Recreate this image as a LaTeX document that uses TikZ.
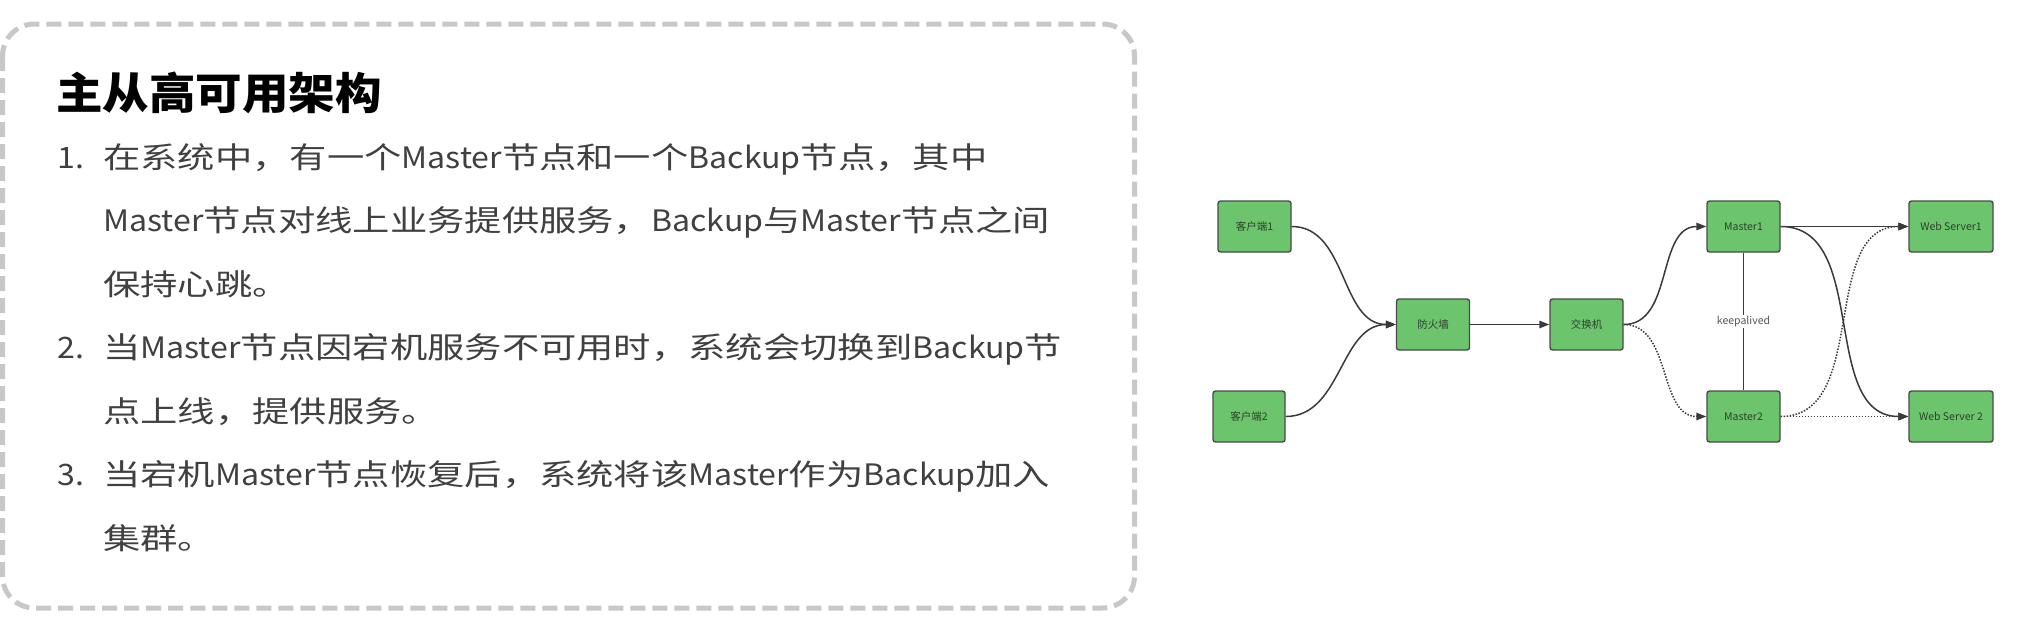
\documentclass[tikz,border=0pt]{standalone}
\usepackage{fontspec}
\setmainfont{Noto Sans CJK SC}
\usetikzlibrary{arrows.meta}
\definecolor{framegrey}{HTML}{C8C8C8}
\definecolor{bodytext}{HTML}{404040}
\definecolor{boxgreen}{HTML}{6CC46C}
\definecolor{boxedge}{HTML}{4A4A4A}
\definecolor{nodetext}{HTML}{2F3F2F}
\definecolor{linkgrey}{HTML}{3A3A3A}
\definecolor{labelgrey}{HTML}{555555}
\newcommand\bodyfont{\fontsize{29.5}{35}\selectfont}
\newcommand\titlefont{\fontsize{43.5}{50}\selectfont\bfseries}
\newcommand\bstretch[1]{\scalebox{1.265}[1]{#1}}
\newcommand\tstretch[1]{\scalebox{1.07}[1]{#1}}
\newcommand\lat[1]{\scalebox{0.86}[1]{#1}}
\begin{document}
\begin{tikzpicture}[x=1pt,y=-1pt,
  frame/.style={draw=framegrey, line width=5pt, dash pattern=on 15pt off 7pt, rounded corners=32pt},
  srv/.style={draw=boxedge, fill=boxgreen, rounded corners=2.5pt, line width=1.4pt,
    minimum width=73pt, minimum height=51pt, inner sep=0pt,
    font=\fontsize{10.5}{12}\selectfont, text=nodetext},
  link/.style={draw=linkgrey, line width=1.5pt},
  arr/.style={link, -{Triangle[length=10pt,width=7.5pt]}},
  dotted line/.style={dash pattern=on 1.5pt off 1.5pt},
  body/.style={anchor=base west, inner sep=0pt, font=\bodyfont, text=bodytext},
  ttl/.style={anchor=base west, inner sep=0pt, font=\titlefont, text=black},
  lbl/.style={fill=white, inner sep=1.5pt, font=\fontsize{10.5}{12}\selectfont, text=labelgrey}]
\useasboundingbox (0,0) rectangle (2018,621);
\fill[white] (0,0) rectangle (2018,621);
% left panel
\draw[frame] (2.5,24) rectangle (1134.5,608);
\node[ttl] (title) at (56,109.5) {\tstretch{主从高可用架构}};
\node[body] (n1) at (57,168) {\bstretch{\lat{1.}}};
\node[body] (l1) at (103,168) {\bstretch{在系统中，有一个\lat{Master}节点和一个\lat{Backup}节点，其中}};
\node[body] (l2) at (103,231.5) {\bstretch{\lat{Master}节点对线上业务提供服务，\lat{Backup}与\lat{Master}节点之间}};
\node[body] (l3) at (103,295) {\bstretch{保持心跳。}};
\node[body] (n2) at (57,358.5) {\bstretch{\lat{2.}}};
\node[body] (l4) at (103,358.5) {\bstretch{当\lat{Master}节点因宕机服务不可用时，系统会切换到\lat{Backup}节}};
\node[body] (l5) at (103,422) {\bstretch{点上线，提供服务。}};
\node[body] (n3) at (57,485.5) {\bstretch{\lat{3.}}};
\node[body] (l6) at (103,485.5) {\bstretch{当宕机\lat{Master}节点恢复后，系统将该\lat{Master}作为\lat{Backup}加入}};
\node[body] (l7) at (103,549) {\bstretch{集群。}};
% diagram
\node[srv] (c1) at (1254.5,226.5) {客户端1};
\node[srv, minimum width=72pt] (c2) at (1249,416.5) {客户端2};
\node[srv] (fw) at (1433,324.5) {防火墙};
\node[srv] (sw) at (1586.5,324.5) {交换机};
\node[srv] (m1) at (1743.5,226.5) {Master1};
\node[srv] (m2) at (1743.5,416.5) {Master2};
\node[srv, minimum width=84pt] (w1) at (1951,226.5) {Web Server1};
\node[srv, minimum width=84pt] (w2) at (1951,416.5) {Web Server 2};
\draw[arr] (c1.east) to[out=0,in=180] (fw.west);
\draw[arr] (c2.east) to[out=0,in=180] (fw.west);
\draw[arr] (fw.east) -- (sw.west);
\draw[arr] (sw.east) to[out=0,in=180] (m1.west);
\draw[arr, dotted line] (sw.east) to[out=0,in=180] (m2.west);
\draw[link] (m1.south) -- node[lbl] (ka) {keepalived} (m2.north);
\draw[arr] (m1.east) -- (w1.west);
\draw[arr] (m1.east) to[out=0,in=180] (w2.west);
\draw[arr, dotted line] (m2.east) to[out=0,in=180] (w1.west);
\draw[arr, dotted line] (m2.east) -- (w2.west);
\end{tikzpicture}
\end{document}
